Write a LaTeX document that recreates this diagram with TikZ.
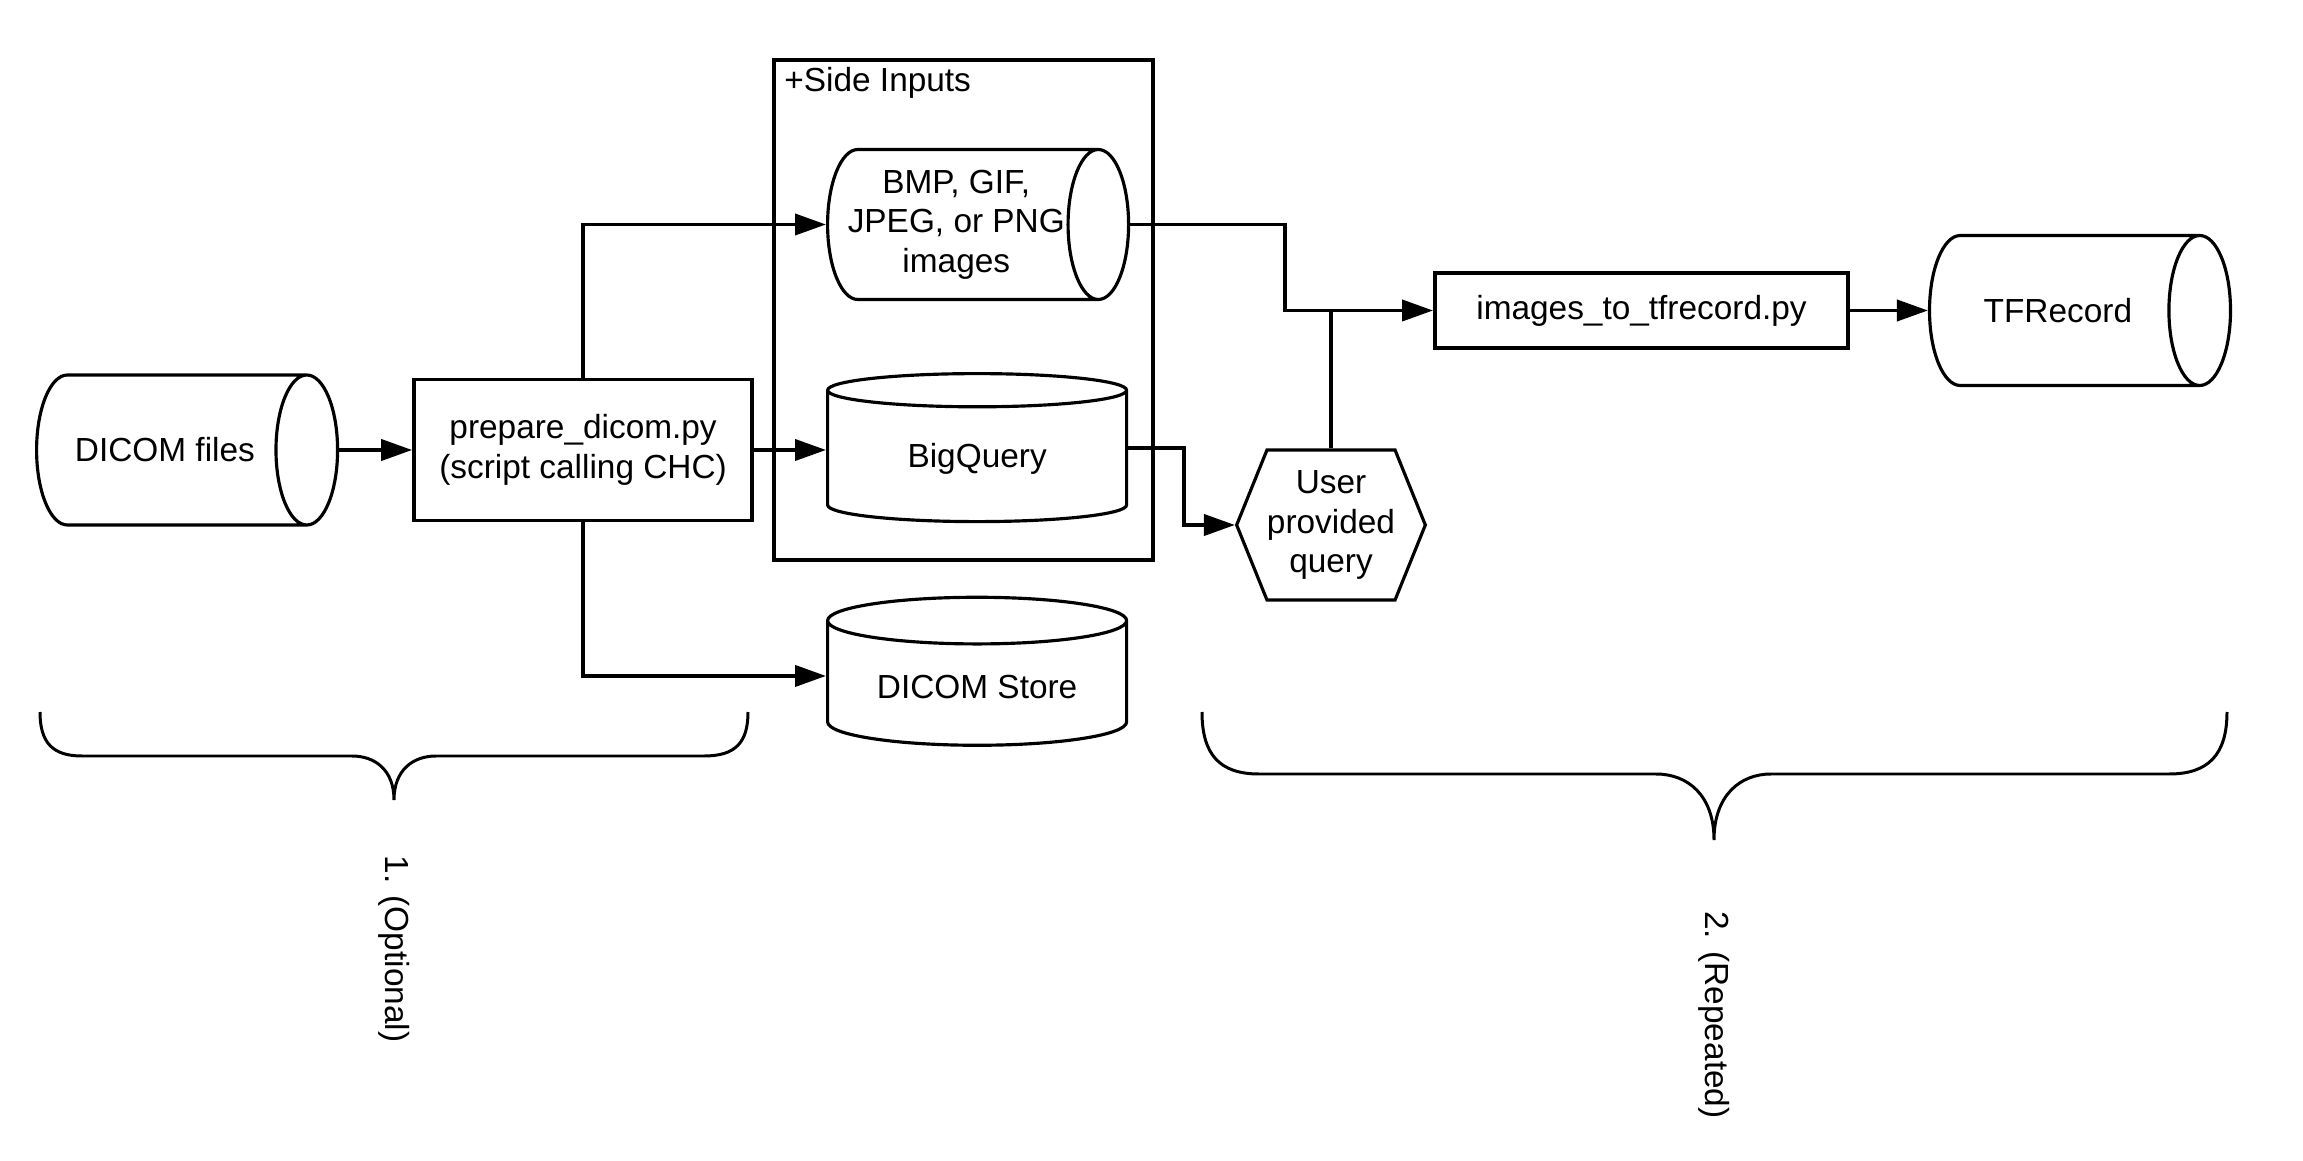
\documentclass[tikz,border=0pt]{standalone}
\usepackage{fontspec}
\setmainfont{Liberation Sans}
\usepackage{tikz}
\usetikzlibrary{positioning}
\usetikzlibrary{shapes,arrows,calc,arrows.meta}

\begin{document}
\begin{tikzpicture}[node distance=1.5cm, auto,
    font=\fontsize{19}{22.5}\selectfont,
    process/.style={draw, rectangle, line width=2.2pt, align=center},
    store/.style={draw, cylinder, line width=1.8pt, align=center, inner xsep=0pt, shape aspect=1.7, minimum width=3.0cm, minimum height=6.02cm},
    dbstore/.style={draw, cylinder, shape border rotate=90, line width=1.8pt, align=center, shape aspect=0.22, minimum width=5.98cm, minimum height=2.96cm},
    link/.style={line width=2.2pt, -{Triangle[length=0.62cm,width=0.42cm]}},
    brace/.style={line width=1.7pt}]
    \useasboundingbox (0,0) rectangle (46.06,-23.22);

    % Nodes
    \node [store, anchor=west] (dicomfiles) at (0.70,-9.0) {DICOM files};
    \node [process, minimum width=6.76cm, minimum height=2.82cm, right=1.46cm of dicomfiles] (prepare) {prepare\_dicom.py\\(script calling CHC)};
    \node [dbstore, right=1.44cm of prepare, yshift=-0.18cm] (bigquery) {BigQuery};
    \node [store, anchor=west, shape aspect=0.5] (images) at (16.52,-4.49) {BMP, GIF,\\JPEG, or PNG\\images};
    \node [dbstore, below=1.45cm of bigquery] (dicomstore) {DICOM Store};
    \node [draw, line width=2.2pt, minimum width=7.58cm, minimum height=10cm] (sidebox) at (19.27,-6.2) {};
    \node [anchor=west, inner sep=0pt] (sidelabel) at ([shift={(0.24,-0.5)}]sidebox.north west) {+Side Inputs};
    \node [draw, signal, signal to=east and west, signal pointer angle=136, inner xsep=0pt, line width=1.8pt, minimum height=3.0cm, align=center] (query) at (26.62,-10.5) {User\\provided\\query};
    \node [process, minimum width=8.26cm, minimum height=1.5cm] (tfbox) at (32.83,-6.21) {images\_to\_tfrecord.py};
    \node [store, right=1.56cm of tfbox] (tfrecord) {TFRecord};

    % Arrows
    \draw [link] (dicomfiles) -- (prepare);
    \draw [link] (prepare.north) |- (images);
    \draw [link] (prepare.east) -- (prepare.east -| bigquery.west);
    \draw [link] (prepare.south) |- ([yshift=0.22cm]dicomstore.west);
    \draw [link] (images.east) -- ++(3.1,0) |- (tfbox);
    \draw [link] ([yshift=0.22cm]bigquery.east) -- ++(1.12,0) |- (query);
    \draw [line width=2.2pt] (query.north) -- (query.north |- tfbox.west);
    \draw [link] (tfbox) -- (tfrecord);

    % Braces
    \draw [brace] (0.8,-14.24) .. controls (0.8,-14.85) and (1.05,-15.12) .. (1.64,-15.12) -- (7.04,-15.12)
        .. controls (7.5,-15.12) and (7.88,-15.4) .. (7.88,-16.0)
        .. controls (7.88,-15.4) and (8.26,-15.12) .. (8.72,-15.12) -- (14.08,-15.12)
        .. controls (14.71,-15.12) and (14.96,-14.85) .. (14.96,-14.24);
    \draw [brace] (24.04,-14.24) .. controls (24.04,-15.1) and (24.4,-15.48) .. (25.18,-15.48) -- (33.12,-15.48)
        .. controls (33.75,-15.48) and (34.28,-15.9) .. (34.28,-16.8)
        .. controls (34.28,-15.9) and (34.81,-15.48) .. (35.42,-15.48) -- (43.38,-15.48)
        .. controls (44.16,-15.48) and (44.54,-15.1) .. (44.54,-14.24);
    \node [rotate=-90] (optional) at (7.88,-18.98) {1. (Optional)};
    \node [rotate=-90] (repeated) at (34.28,-20.3) {2. (Repeated)};
\end{tikzpicture}
\end{document}
